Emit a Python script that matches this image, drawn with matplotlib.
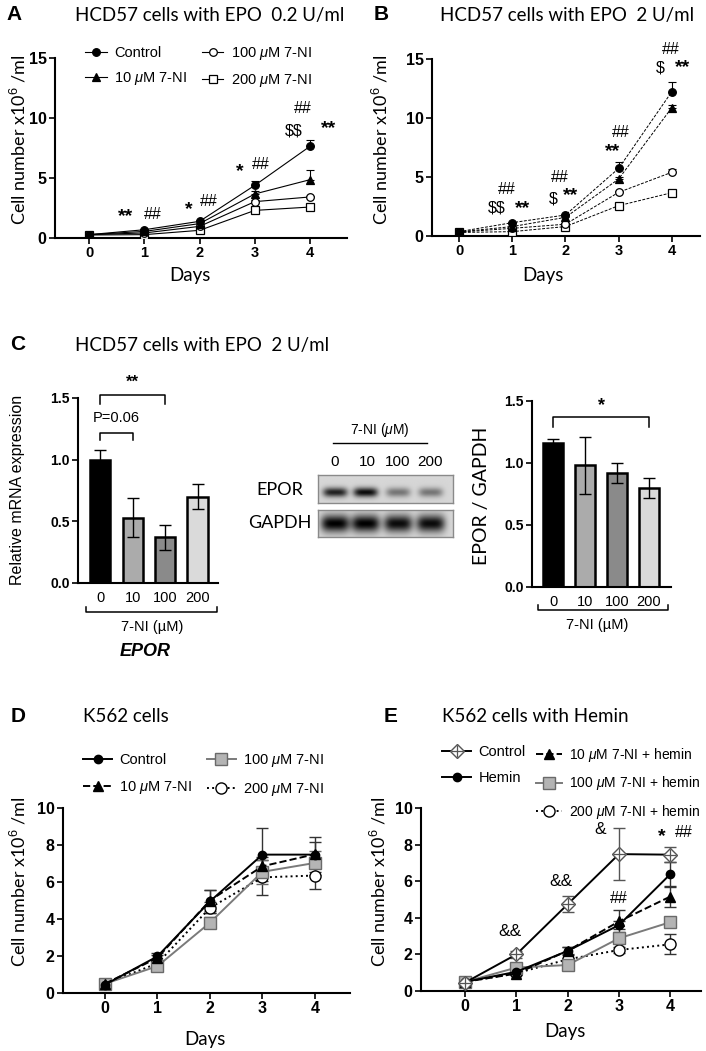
import numpy as np
import matplotlib
matplotlib.use('Agg')
import matplotlib.pyplot as plt
from matplotlib.lines import Line2D
from matplotlib.legend_handler import HandlerTuple

plt.rcParams['font.family'] = ['Liberation Sans', 'DejaVu Sans']
plt.rcParams['mathtext.fontset'] = 'custom'
plt.rcParams['mathtext.rm'] = 'Liberation Sans'
plt.rcParams['mathtext.it'] = 'Liberation Sans:italic'
plt.rcParams['mathtext.bf'] = 'Liberation Sans:bold'

# ---------------- data ----------------
days = [0, 1, 2, 3, 4]

# A: HCD57 with EPO 0.2 U/ml (mean, upper SD)
a_ctrl = [0.28, 0.69, 1.39, 4.39, 7.64]
a_ctrl_sd = [0.03, 0.05, 0.08, 0.40, 0.55]
a_10 = [0.28, 0.55, 1.20, 3.67, 4.86]
a_10_sd = [0.03, 0.03, 0.05, 0.25, 0.80]
a_100 = [0.28, 0.42, 0.97, 3.03, 3.42]
a_100_sd = [0.02, 0.03, 0.05, 0.10, 0.10]
a_200 = [0.25, 0.28, 0.64, 2.30, 2.58]
a_200_sd = [0.02, 0.02, 0.05, 0.10, 0.08]
a_marks = [('**', 0.65, 1.75), ('##', 1.15, 2.0), ('*', 1.8, 2.35), ('##', 2.16, 3.05),
           ('*', 2.73, 5.55), ('##', 3.11, 6.1), ('##', 3.87, 10.8),
           (r'\$\$', 3.7, 8.9), ('**', 4.33, 9.15)]

# B: HCD57 with EPO 2 U/ml
b_ctrl = [0.37, 1.13, 1.78, 5.73, 12.23]
b_ctrl_sd = [0.03, 0.08, 0.10, 0.55, 0.85]
b_10 = [0.35, 0.80, 1.58, 4.83, 10.88]
b_10_sd = [0.03, 0.05, 0.08, 0.20, 0.20]
b_100 = [0.33, 0.65, 1.00, 3.70, 5.40]
b_100_sd = [0.03, 0.05, 0.05, 0.10, 0.30]
b_200 = [0.30, 0.37, 0.80, 2.57, 3.67]
b_200_sd = [0.02, 0.03, 0.05, 0.10, 0.10]
b_marks = [('##', 0.9, 3.9), (r'\$\$', 0.71, 2.35), ('**', 1.2, 2.35),
           ('##', 1.89, 5.0), (r'\$', 1.78, 3.1), ('**', 2.1, 3.45),
           ('##', 3.04, 8.75), ('**', 2.89, 7.15),
           ('##', 3.98, 15.8), (r'\$', 3.78, 14.2), ('**', 4.2, 14.25)]

# C: EPOR mRNA and protein vs 7-NI dose
doses = ['0', '10', '100', '200']
mrna = [1.00, 0.53, 0.37, 0.70]
mrna_sd = [0.08, 0.16, 0.10, 0.10]
protein = [1.16, 0.98, 0.92, 0.80]
protein_sd = [0.03, 0.23, 0.08, 0.08]
bar_colors = ['#000000', '#ababab', '#8a8a8a', '#dadada']
epor_band = [0.85, 0.95, 0.45, 0.45]
gapdh_band = [1.0, 1.0, 0.95, 0.95]

# D: K562
d_ctrl = [0.45, 1.98, 4.95, 7.48, 7.48]
d_ctrl_sd = [0.05, 0.20, 0.60, 1.45, 0.70]
d_10 = [0.50, 1.90, 5.00, 6.85, 7.50]
d_10_sd = [0.05, 0.15, 0.55, 0.50, 0.95]
d_100 = [0.50, 1.45, 3.80, 6.55, 7.03]
d_100_sd = [0.05, 0.10, 0.30, 0.65, 0.65]
d_200 = [0.50, 1.60, 4.60, 6.25, 6.35]
d_200_sd = [0.05, 0.10, 0.30, 0.95, 0.75]

# E: K562 with hemin
e_ctrl = [0.46, 2.00, 4.74, 7.48, 7.45]
e_ctrl_sd = [0.05, 0.20, 0.45, 1.42, 0.42]
e_hemin = [0.50, 1.05, 2.19, 3.60, 6.38]
e_hemin_sd = [0.05, 0.10, 0.20, 0.20, 0.65]
e_10 = [0.50, 0.95, 2.20, 3.80, 5.16]
e_10_sd = [0.05, 0.10, 0.20, 0.60, 0.55]
e_100 = [0.50, 1.28, 1.42, 2.88, 3.76]
e_100_sd = [0.05, 0.10, 0.10, 0.20, 0.20]
e_200 = [0.50, 0.97, 1.73, 2.24, 2.55]
e_200_sd = [0.05, 0.10, 0.10, 0.15, 0.55]
e_marks = [('&&', 0.88, 3.25), ('&&', 1.87, 6.0), ('&', 2.63, 8.8), ('##', 2.99, 5.07),
           ('*', 3.84, 8.45), ('##', 4.26, 8.65)]

# ---------------- helpers ----------------
W, H = 706, 1051
fig = plt.figure(figsize=(W / 100, H / 100), dpi=100)
TF = 'Lato'   # calibri-like face for titles / axis labels
TS = 13.5     # title size


def add_ax(l, t, r, b):
    return fig.add_axes([l / W, 1 - b / H, (r - l) / W, (b - t) / H])


def ftext(x, y, s, **kw):
    kw.setdefault('ha', 'center')
    kw.setdefault('va', 'center')
    fig.text(x / W, 1 - y / H, s, **kw)


def fline(xs, ys, **kw):
    fig.add_artist(Line2D([x / W for x in xs], [1 - y / H for y in ys],
                          transform=fig.transFigure, **kw))


def style(ax, xlim, ylim, yticks, lw=1.5, size=11.5, fmt='%g'):
    for s in ['top', 'right']:
        ax.spines[s].set_visible(False)
    for s in ['left', 'bottom']:
        ax.spines[s].set_linewidth(lw)
    ax.set_xlim(*xlim)
    ax.set_ylim(*ylim)
    ax.set_yticks(yticks, [fmt % v for v in yticks])
    ax.tick_params(direction='out', length=4, width=lw * 0.8, labelsize=size, pad=2)
    plt.setp(ax.get_yticklabels(), fontweight='bold')


def upper_err(ax, y, sd, **kw):
    ax.errorbar(days, y, yerr=[np.zeros(len(sd)), sd], fmt='none', ecolor='k',
                elinewidth=0.8, capsize=3, capthick=0.8, zorder=2, **kw)


def legend_at(ax, handles, labels, x, y, ncol=2, **kw):
    opts = dict(loc='upper left', frameon=False, borderpad=0, borderaxespad=0,
                fontsize=10.5, handlelength=1.5, handletextpad=0.5, labelspacing=0.7,
                columnspacing=1.0)
    opts.update(kw)
    return ax.legend(handles, labels, ncol=ncol, bbox_to_anchor=(x / W, 1 - y / H),
                     bbox_transform=fig.transFigure, **opts)


def marks(ax, items):
    for s, x, y in items:
        if '*' in s:
            ax.text(x, y, s, ha='center', va='center', fontsize=14, fontweight='bold')
        elif '&' in s:
            ax.text(x, y, s, ha='center', va='center', fontsize=12.5)
        else:
            ax.text(x, y, s, ha='center', va='center', fontsize=11.5)


# ---------------- A ----------------
axA = add_ax(55, 58, 347, 238)
style(axA, (-0.62, 4.67), (0, 15), [0, 5, 10, 15])
axA.set_xticks(days)
axA.tick_params(axis='x', labelsize=10.5)
plt.setp(axA.get_xticklabels(), fontweight='bold')
hA = []
for y, sd, mk, mfc in [(a_200, a_200_sd, 's', 'w'), (a_100, a_100_sd, 'o', 'w'),
                       (a_10, a_10_sd, '^', 'k'), (a_ctrl, a_ctrl_sd, 'o', 'k')]:
    upper_err(axA, y, sd)
    ln, = axA.plot(days, y, color='k', lw=0.8, marker=mk, ms=5.5, mfc=mfc, mec='k', mew=0.9, zorder=3)
    hA.append(ln)
hA = hA[::-1]
legend_at(axA, hA, ['Control', r'10 $\mu$M 7-NI', r'100 $\mu$M 7-NI', r'200 $\mu$M 7-NI'], 85, 45)
marks(axA, a_marks)
ftext(14, 15, 'A', fontsize=15, fontweight='bold')
ftext(75, 15, 'HCD57 cells with EPO  0.2 U/ml', ha='left', fontsize=TS, family=TF)
ftext(18, 140, r'Cell number x10$^6$ /ml', rotation=90, fontsize=13, family=TF)
ftext(190, 276, 'Days', fontsize=13.5, family=TF)

# ---------------- B ----------------
axB = add_ax(432, 59, 700, 236)
style(axB, (-0.51, 4.53), (0, 15), [0, 5, 10, 15])
axB.set_xticks(days)
axB.tick_params(axis='x', labelsize=10.5)
plt.setp(axB.get_xticklabels(), fontweight='bold')
for y, sd, mk, mfc in [(b_200, b_200_sd, 's', 'w'), (b_100, b_100_sd, 'o', 'w'),
                       (b_10, b_10_sd, '^', 'k'), (b_ctrl, b_ctrl_sd, 'o', 'k')]:
    upper_err(axB, y, sd)
    axB.plot(days, y, color='k', lw=0.7, ls=(0, (3, 1.5)), marker=mk, ms=5.5,
             mfc=mfc, mec='k', mew=0.9, zorder=3)
marks(axB, b_marks)
ftext(381, 15, 'B', fontsize=15, fontweight='bold')
ftext(440, 15, 'HCD57 cells with EPO  2 U/ml', ha='left', fontsize=TS, family=TF)
ftext(380, 140, r'Cell number x10$^6$ /ml', rotation=90, fontsize=13, family=TF)
ftext(543, 276, 'Days', fontsize=13.5, family=TF)

# ---------------- C ----------------
ftext(18, 345, 'C', fontsize=15, fontweight='bold')
ftext(75, 346, 'HCD57 cells with EPO  2 U/ml', ha='left', fontsize=TS, family=TF)
xc = np.arange(len(doses))


def bar_panel(ax, vals, sd, xlim):
    style(ax, xlim, (0, 1.5), [0.0, 0.5, 1.0, 1.5], lw=1.5, size=10, fmt='%.1f')
    ax.bar(xc, vals, width=0.62, color=bar_colors, edgecolor='k', lw=1.8, zorder=2)
    ax.errorbar(xc, vals, yerr=sd, fmt='none', ecolor='k', elinewidth=1, capsize=4,
                capthick=1, zorder=3)
    ax.set_xticks(xc, doses)
    ax.tick_params(axis='x', length=0, labelsize=10.5, pad=6)


def sig_bracket(ax, x0, x1, y, h, label, ty, **kw):
    ax.plot([x0, x0, x1, x1], [y - h, y, y, y - h], color='k', lw=1.1, clip_on=False)
    ax.text((x0 + x1) / 2, ty, label, ha='center', va='center', **kw)


def under_bracket(ax, x0, x1, y, h):
    tr = ax.get_xaxis_transform()
    ax.plot([x0, x0, x1, x1], [y + h, y, y, y + h], color='k', lw=1.1,
            transform=tr, clip_on=False)


axC1 = add_ax(78, 398, 218, 583)
bar_panel(axC1, mrna, mrna_sd, (-0.68, 3.63))
sig_bracket(axC1, 0, 2, 1.525, 0.07, '**', 1.63, fontsize=12, fontweight='bold')
sig_bracket(axC1, 0, 1, 1.217, 0.06, 'P=0.06', 1.34, fontsize=10.5)
under_bracket(axC1, -0.43, 3.6, -0.157, 0.027)
ftext(18, 490, 'Relative mRNA expression', rotation=90, fontsize=11.5)
ftext(152, 627, '7-NI (\u00b5M)', fontsize=10.5)
ftext(145, 651, 'EPOR', fontsize=13, fontweight='bold', style='italic')

axC2 = add_ax(532, 401, 671, 587)
bar_panel(axC2, protein, protein_sd, (-0.66, 3.69))
sig_bracket(axC2, 0, 3, 1.37, 0.08, '*', 1.46, fontsize=13, fontweight='bold')
under_bracket(axC2, -0.47, 3.6, -0.124, 0.027)
ftext(482, 496, 'EPOR / GAPDH', rotation=90, fontsize=14, family=TF)
ftext(597, 625, '7-NI (\u00b5M)', fontsize=10.5)

# western blot
lane_cx = [0.126, 0.35, 0.59, 0.83]
lane_px = [335, 367, 398, 430]


def blot(t, b, bands, cy, sy, wx):
    ax = add_ax(318, t, 453, b)
    gx, gy = np.meshgrid(np.linspace(0, 1, 270), np.linspace(0, 1, 60))
    img = np.zeros_like(gx)
    for cx, a in zip(lane_cx, bands):
        img += a * np.exp(-((gx - cx) / wx) ** 4) * np.exp(-((gy - cy) / sy) ** 2)
    ax.imshow(0.84 - 0.84 * np.clip(img, 0, 1), cmap='gray', vmin=0, vmax=1,
              extent=[0, 1, 1, 0], aspect='auto')
    ax.set_xticks([])
    ax.set_yticks([])
    for s in ax.spines.values():
        s.set_color('#8a8a8a')
        s.set_linewidth(1)


blot(475, 503, epor_band, 0.62, 0.17, 0.09)
blot(510, 537, gapdh_band, 0.5, 0.32, 0.105)
ftext(280, 490, 'EPOR', fontsize=13, family=TF)
ftext(280, 523, 'GAPDH', fontsize=13, family=TF)
ftext(380, 430, r'7-NI ($\mu$M)', fontsize=10)
fline([333, 427], [443, 443], color='k', lw=1)
for x, s in zip(lane_px, doses):
    ftext(x, 462, s, fontsize=11)

# ---------------- D ----------------
axD = add_ax(63, 808, 350, 993)
style(axD, (-0.8, 4.67), (0, 10), [0, 2, 4, 6, 8, 10])
axD.set_xticks(days)
plt.setp(axD.get_xticklabels(), fontweight='bold')
d_specs = [(d_200, d_200_sd, dict(color='k', ls=':', marker='o', ms=8, mfc='w', mec='k')),
           (d_100, d_100_sd, dict(color='#7a7a7a', ls='-', marker='s', ms=9, mfc='#b4b4b4', mec='#6a6a6a')),
           (d_10, d_10_sd, dict(color='k', ls='--', marker='^', ms=7.5, mfc='k', mec='k')),
           (d_ctrl, d_ctrl_sd, dict(color='k', ls='-', marker='o', ms=6, mfc='k', mec='k'))]
hD = []
for y, sd, kw in d_specs:
    axD.errorbar(days, y, yerr=sd, fmt='none', ecolor=kw['mec'] if kw['mec'] != 'k' else '#333',
                 elinewidth=1, capsize=4, capthick=1, zorder=2)
    ln, = axD.plot(days, y, lw=1.4, mew=1, zorder=3, **kw)
    hD.append(ln)
hD = hD[::-1]
legend_at(axD, hD, ['Control', r'10 $\mu$M 7-NI', r'100 $\mu$M 7-NI', r'200 $\mu$M 7-NI'], 83, 752,
          handlelength=2.0, labelspacing=0.8)
ftext(18, 717, 'D', fontsize=15, fontweight='bold')
ftext(83, 716, 'K562 cells', ha='left', fontsize=TS, family=TF)
ftext(18, 882, r'Cell number x10$^6$ /ml', rotation=90, fontsize=13, family=TF)
ftext(205, 1040, 'Days', fontsize=13.5, family=TF)

# ---------------- E ----------------
axE = add_ax(421, 808, 701, 991)
style(axE, (-0.86, 4.6), (0, 10), [0, 2, 4, 6, 8, 10])
axE.set_xticks(days)
plt.setp(axE.get_xticklabels(), fontweight='bold')
e_specs = [(e_200, e_200_sd, dict(color='k', ls=':', marker='o', ms=8, mfc='w', mec='k')),
           (e_100, e_100_sd, dict(color='#7a7a7a', ls='-', marker='s', ms=9, mfc='#b4b4b4', mec='#6a6a6a')),
           (e_10, e_10_sd, dict(color='k', ls='--', marker='^', ms=7.5, mfc='k', mec='k')),
           (e_hemin, e_hemin_sd, dict(color='k', ls='-', marker='o', ms=6, mfc='k', mec='k')),
           (e_ctrl, e_ctrl_sd, dict(color='k', ls='-', marker='D', ms=7, mfc='w', mec='#555'))]
hE = []
for y, sd, kw in e_specs:
    axE.errorbar(days, y, yerr=sd, fmt='none', ecolor=kw['mec'] if kw['mec'] != 'k' else '#333',
                 elinewidth=1, capsize=4, capthick=1, zorder=2)
    ln, = axE.plot(days, y, lw=1.4, mew=1, zorder=3, **kw)
    hE.append(ln)
cross, = axE.plot(days, e_ctrl, ls='none', marker='+', ms=9, mec='#555', mew=0.9, zorder=4)
h200, h100, h10, hhem, hctl = hE
legE1 = legend_at(axE, [(hctl, cross), hhem], ['Control', 'Hemin'], 442, 745, ncol=1,
                  handlelength=2.0, labelspacing=0.8, handler_map={tuple: HandlerTuple(ndivide=1)})
axE.add_artist(legE1)
legend_at(axE, [h10, h100, h200], [r'10 $\mu$M 7-NI + hemin', r'100 $\mu$M 7-NI + hemin',
                                   r'200 $\mu$M 7-NI + hemin'], 536, 746, ncol=1,
          fontsize=10, handlelength=1.9, handletextpad=0.45, labelspacing=0.75)
marks(axE, e_marks)
ftext(391, 716, 'E', fontsize=15, fontweight='bold')
ftext(442, 716, 'K562 cells with Hemin', ha='left', fontsize=TS, family=TF)
ftext(378, 882, r'Cell number x10$^6$ /ml', rotation=90, fontsize=13, family=TF)
ftext(565, 1032, 'Days', fontsize=13.5, family=TF)

fig.savefig('out.png', dpi=100)
